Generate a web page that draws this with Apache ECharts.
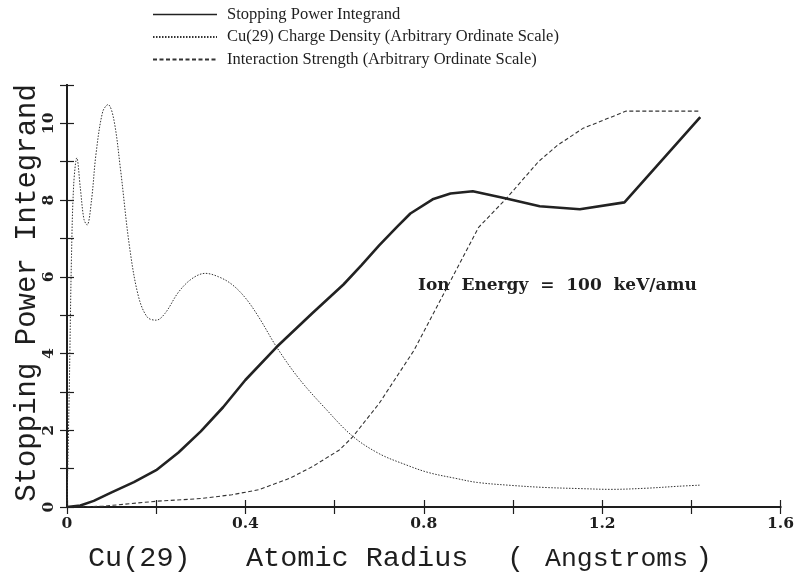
<!DOCTYPE html>
<html>
<head>
<meta charset="utf-8">
<script src="https://cdn.jsdelivr.net/npm/echarts@6/dist/echarts.min.js"></script>
<style>
  html, body { margin: 0; padding: 0; background: #fff; }
  #chart { width: 797px; height: 577px; }
</style>
</head>
<body>
<div id="chart"></div>
<script>
// Stopping power integrand vs. atomic radius (Angstroms)
const stoppingX = [0, 0.03, 0.06, 0.1, 0.15, 0.2, 0.25, 0.3, 0.35, 0.4, 0.47, 0.55, 0.62, 0.66, 0.7, 0.74, 0.77, 0.82, 0.86, 0.91, 0.985, 1.06, 1.15, 1.25, 1.42];
const stoppingY = [0, 0.04, 0.16, 0.38, 0.65, 0.96, 1.42, 1.97, 2.6, 3.31, 4.17, 5.05, 5.8, 6.3, 6.82, 7.3, 7.65, 8.02, 8.17, 8.23, 8.04, 7.84, 7.76, 7.94, 10.16];

// Cu(29) charge density, arbitrary ordinate scale
const densityX = [0, 0.005, 0.01, 0.015, 0.022, 0.03, 0.038, 0.045, 0.055, 0.065, 0.08, 0.092, 0.105, 0.12, 0.14, 0.16, 0.18, 0.2, 0.22, 0.25, 0.28, 0.31, 0.34, 0.37, 0.4, 0.43, 0.47, 0.52, 0.58, 0.64, 0.7, 0.76, 0.81, 0.87, 0.92, 1.0, 1.07, 1.15, 1.22, 1.3, 1.37, 1.42];
const densityY = [0, 3.0, 6.5, 8.4, 9.1, 8.3, 7.5, 7.35, 8.0, 9.2, 10.3, 10.49, 10.1, 8.8, 6.8, 5.5, 4.95, 4.87, 5.05, 5.6, 5.95, 6.09, 6.0, 5.8, 5.45, 4.95, 4.17, 3.35, 2.56, 1.85, 1.39, 1.1, 0.9, 0.75, 0.64, 0.56, 0.51, 0.48, 0.46, 0.49, 0.54, 0.57];

// Interaction strength, arbitrary ordinate scale
const strengthX = [0, 0.08, 0.2, 0.3, 0.37, 0.43, 0.5, 0.55, 0.61, 0.64, 0.7, 0.744, 0.778, 0.849, 0.923, 0.985, 1.057, 1.1, 1.157, 1.254, 1.419];
const strengthY = [0, 0.02, 0.15, 0.22, 0.32, 0.45, 0.75, 1.05, 1.48, 1.82, 2.7, 3.48, 4.08, 5.65, 7.29, 8.04, 9.0, 9.43, 9.87, 10.32, 10.32];

const seriesNames = [
  'Stopping Power Integrand',
  'Cu(29) Charge Density (Arbitrary Ordinate Scale)',
  'Interaction Strength (Arbitrary Ordinate Scale)'
];
const xTickLabels = ['0', '0.4', '0.8', '1.2', '1.6'];
const yTickLabels = ['0', '2', '4', '6', '8', '10'];
const annotation = 'Ion  Energy  =  100  keV/amu';
// x title pieces with their left edges and font sizes
const xTitleParts = ['Cu(29)', 'Atomic Radius', '(', 'Angstroms', ')'];
const xTitleLefts = [88, 246, 507, 545, 695];
const xTitleSizes = [28.5, 28.5, 28.5, 26.5, 28.5];
const yTitle = 'Stopping Power Integrand';

const pairs = (xs, ys) => xs.map((x, i) => [x, ys[i]]);
const ink = '#1e1e1e';
const serif = '"DejaVu Serif", "Liberation Serif", serif';
const legendSerif = '"Liberation Serif", "DejaVu Serif", serif';
const mono = '"Liberation Mono", "DejaVu Sans Mono", monospace';

const fmtX = v => {
  const s = (Math.round(v * 10) / 10).toString();
  return xTickLabels.includes(s) ? s : '';
};
const fmtY = v => {
  const s = String(Math.round(v));
  return yTickLabels.includes(s) ? s : '';
};

const frameLine = { show: true, lineStyle: { color: ink, width: 2 } };
const innerTick = { show: true, inside: true, length: 7, lineStyle: { color: ink, width: 1.2 } };

const titleGraphics = xTitleParts.map((t, i) => ({
  type: 'text', left: xTitleLefts[i], top: 544 + (28.5 - xTitleSizes[i]) * 0.8,
  style: { text: t, fontFamily: mono, fontSize: xTitleSizes[i], fill: ink }
}));

const chart = echarts.init(document.getElementById('chart'), null, { renderer: 'canvas' });
chart.setOption({
  backgroundColor: '#ffffff',
  animation: false,
  grid: { left: 67, right: 12, top: 85, bottom: 70, containLabel: false },
  legend: {
    orient: 'vertical',
    left: 147,
    top: 1,
    itemWidth: 64,
    itemHeight: 12,
    itemGap: 5.5,
    itemStyle: { opacity: 0, borderWidth: 0 },
    textStyle: { fontFamily: legendSerif, fontSize: 16.5, color: ink, padding: [0, 0, 0, 5] },
    data: [
      { name: seriesNames[0], lineStyle: { width: 1.4 } },
      { name: seriesNames[1] },
      { name: seriesNames[2] }
    ]
  },
  xAxis: [
    {
      type: 'value', min: 0, max: 1.6, interval: 0.2,
      axisLine: frameLine, axisTick: innerTick, splitLine: { show: false },
      axisLabel: { formatter: fmtX, margin: 9, fontFamily: serif, fontWeight: 'bold', fontSize: 15.5, color: ink }
    },
    {
      type: 'value', position: 'top', min: 0, max: 1.6, interval: 0.2,
      axisLine: frameLine, axisTick: innerTick, splitLine: { show: false },
      axisLabel: { show: false }
    }
  ],
  yAxis: [
    {
      type: 'value', min: 0, max: 11, interval: 1,
      axisLine: frameLine, axisTick: innerTick, splitLine: { show: false },
      axisLabel: { formatter: fmtY, rotate: 90, margin: 10, fontFamily: serif, fontWeight: 'bold', fontSize: 15.5, color: ink }
    },
    {
      type: 'value', position: 'right', min: 0, max: 11, interval: 1,
      axisLine: frameLine, axisTick: innerTick, splitLine: { show: false },
      axisLabel: { show: false }
    }
  ],
  series: [
    {
      name: seriesNames[0], type: 'line', data: pairs(stoppingX, stoppingY),
      showSymbol: false, symbol: 'none', smooth: false,
      itemStyle: { color: '#222' },
      lineStyle: { color: '#222', width: 2.6, type: 'solid' }, z: 4
    },
    {
      name: seriesNames[1], type: 'line', data: pairs(densityX, densityY),
      showSymbol: false, symbol: 'none', smooth: 0.35,
      itemStyle: { color: '#333' },
      lineStyle: { color: '#333', width: 1, type: [1.5, 1.5] }, z: 3
    },
    {
      name: seriesNames[2], type: 'line', data: pairs(strengthX, strengthY),
      showSymbol: false, symbol: 'none', smooth: false,
      itemStyle: { color: '#333' },
      lineStyle: { color: '#333', width: 1.1, type: [4, 2.5] }, z: 3
    }
  ],
  graphic: [
    {
      type: 'text', left: 418, top: 277,
      style: { text: annotation, fontFamily: serif, fontWeight: 'bold', fontSize: 17, fill: ink }
    },
    ...titleGraphics,
    {
      type: 'text', x: 27, y: 293, rotation: Math.PI / 2,
      style: { text: yTitle, fontFamily: mono, fontSize: 29, fill: ink, align: 'center', verticalAlign: 'middle' }
    }
  ]
});
</script>
</body>
</html>
